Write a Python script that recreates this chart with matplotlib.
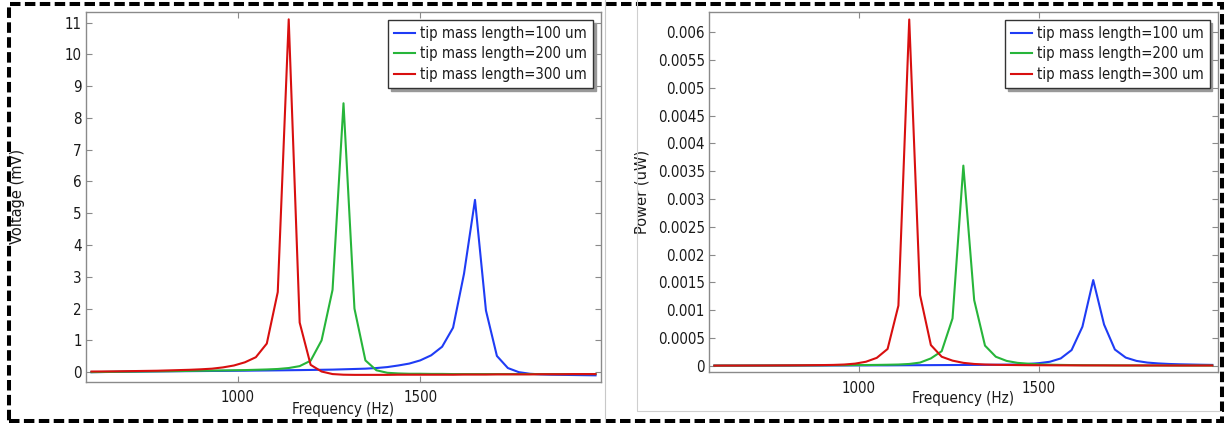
#Frequency response plots: voltage and power vs frequency for three tip mass lengths
import numpy as np
import matplotlib
matplotlib.use("Agg")
import matplotlib.pyplot as plt
from matplotlib.ticker import FuncFormatter
from matplotlib.lines import Line2D
from matplotlib.patches import Rectangle

plt.rcParams['font.family'] = ['DejaVu Sans']

#sweep frequencies (Hz), 600..1980 in 30 Hz steps
freq = np.arange(600, 1981, 30)

series_labels = ["tip mass length=100 um", "tip mass length=200 um", "tip mass length=300 um"]
series_colors = ["#1f3cf5", "#27b53a", "#d80f0f"]

#voltage (mV), ten values per row
voltage_100 = [0.0, 0.004, 0.008, 0.012, 0.016, 0.02, 0.023, 0.026, 0.029, 0.032,
               0.035, 0.038, 0.04, 0.043, 0.046, 0.05, 0.053, 0.057, 0.061, 0.065,
               0.07, 0.075, 0.08, 0.09, 0.1, 0.11, 0.13, 0.16, 0.21, 0.27,
               0.37, 0.53, 0.8, 1.4, 3.1, 5.42, 1.94, 0.51, 0.13, 0.0,
               -0.05, -0.07, -0.08, -0.085, -0.09, -0.095, -0.1]
voltage_200 = [0.0, 0.005, 0.01, 0.014, 0.018, 0.022, 0.026, 0.03, 0.035, 0.04,
               0.045, 0.05, 0.055, 0.06, 0.065, 0.075, 0.085, 0.1, 0.13, 0.19,
               0.36, 1.0, 2.59, 8.46, 2.0, 0.37, 0.06, -0.02, -0.04, -0.05,
               -0.05, -0.055, -0.055, -0.06, -0.06, -0.06, -0.06, -0.06, -0.06, -0.06,
               -0.06, -0.06, -0.06, -0.06, -0.06, -0.06, -0.06]
voltage_300 = [0.02, 0.022, 0.025, 0.03, 0.035, 0.04, 0.045, 0.055, 0.065, 0.075,
               0.09, 0.11, 0.15, 0.21, 0.31, 0.47, 0.9, 2.52, 11.1, 1.56,
               0.23, 0.02, -0.06, -0.08, -0.085, -0.085, -0.085, -0.085, -0.08, -0.08,
               -0.08, -0.08, -0.08, -0.08, -0.075, -0.075, -0.075, -0.07, -0.07, -0.07,
               -0.07, -0.065, -0.065, -0.065, -0.06, -0.06, -0.06]

#power (uW), ten values per row
power_100 = [0.0, 0.0, 0.0, 0.0, 0.000001, 0.000001, 0.000001, 0.000001, 0.000002, 0.000002,
             0.000002, 0.000003, 0.000003, 0.000004, 0.000004, 0.000005, 0.000005, 0.000006, 0.000007, 0.000008,
             0.000009, 0.00001, 0.000011, 0.000012, 0.000013, 0.000014, 0.000016, 0.000018, 0.00002, 0.00003,
             0.000045, 0.00007, 0.00013, 0.00028, 0.0007, 0.00154, 0.00074, 0.00029, 0.000145, 0.000085,
             0.000055, 0.00004, 0.00003, 0.000024, 0.00002, 0.000016, 0.000013]
power_200 = [0.0, 0.000001, 0.000001, 0.000001, 0.000002, 0.000002, 0.000003, 0.000003, 0.000004, 0.000005,
             0.000006, 0.000007, 0.000008, 0.00001, 0.000011, 0.000013, 0.000016, 0.00002, 0.00003, 0.000055,
             0.00013, 0.00026, 0.00085, 0.0036, 0.00118, 0.00036, 0.00016, 0.000085, 0.00005, 0.000035,
             0.000024, 0.000017, 0.000013, 0.00001, 0.000008, 0.000007, 0.000006, 0.000005, 0.000004, 0.000004,
             0.000003, 0.000003, 0.000003, 0.000002, 0.000002, 0.000002, 0.000002]
power_300 = [0.0, 0.000001, 0.000001, 0.000002, 0.000002, 0.000003, 0.000004, 0.000005, 0.000006, 0.000008,
             0.00001, 0.000013, 0.00002, 0.000036, 0.00007, 0.00014, 0.0003, 0.00108, 0.00623, 0.00127,
             0.00037, 0.00016, 0.00009, 0.00005, 0.00003, 0.00002, 0.000015, 0.000012, 0.00001, 0.000008,
             0.000007, 0.000006, 0.000005, 0.000005, 0.000004, 0.000004, 0.000004, 0.000003, 0.000003, 0.000003,
             0.000003, 0.000003, 0.000002, 0.000002, 0.000002, 0.000002, 0.000002]

voltage_data = [voltage_100, voltage_200, voltage_300]
power_data = [power_100, power_200, power_300]

spine_gray = "#8a8a8a"
text_dark = "#1a1a1a"


def style_axes(ax):
    for side in ax.spines.values():
        side.set_color(spine_gray)
        side.set_linewidth(1.0)
    ax.tick_params(direction="in", length=4, width=0.8, color=spine_gray,
                   top=True, right=True, labelcolor=text_dark, labelsize=10.8)
    ax.tick_params(axis="x", pad=6)
    ax.tick_params(axis="y", pad=3)
    ax.set_xticks([1000, 1500])
    ax.set_xlim(585, 1995)


def draw_panel(ax, data, ylabel, ylim, yticks):
    for vals, lab, col in zip(data, series_labels, series_colors):
        ax.plot(freq, vals, color=col, lw=1.5, label=lab, solid_joinstyle="round")
    ax.set_ylim(*ylim)
    ax.set_yticks(yticks)
    style_axes(ax)
    ax.set_xlabel("Frequency (Hz)", fontsize=10.8, fontstretch="condensed", color=text_dark)
    ax.set_ylabel(ylabel, fontsize=10.5, color=text_dark)
    leg = ax.legend(loc="upper right", fancybox=False, shadow={"ox": 2, "oy": -2, "color": "#999999", "alpha": 1},
                    prop=dict(size=10.7, stretch="condensed"),
                    borderaxespad=0.55, handlelength=1.4, handletextpad=0.35, labelspacing=0.38,
                    borderpad=0.4, framealpha=1)
    leg.get_frame().set_edgecolor("#333333")
    leg.get_frame().set_linewidth(1.0)
    for t in leg.get_texts():
        t.set_color(text_dark)
    return ax


fig = plt.figure(figsize=(12.27, 4.23), dpi=100)

ax1 = fig.add_axes([86 / 1227, 1 - 381.7 / 423, 515 / 1227, 370 / 423])
draw_panel(ax1, voltage_data, "Voltage (mV)", (-0.3, 11.34), np.arange(0, 12, 1))
ax1.xaxis.set_label_coords(0.5, -0.055)
ax1.yaxis.set_label_coords(-0.119, 0.5)

ax2 = fig.add_axes([709 / 1227, 1 - 372.3 / 423, 508.7 / 1227, 360.6 / 423])
draw_panel(ax2, power_data, "Power (uW)", (-0.00012, 0.00637), np.linspace(0, 0.006, 13))
ax2.yaxis.set_major_formatter(FuncFormatter(lambda v, pos: "0" if abs(v) < 1e-12 else f"{v:.4f}".rstrip("0")))
ax2.xaxis.set_label_coords(0.5, -0.053)
ax2.yaxis.set_label_coords(-0.116, 0.5)

for ax in (ax1, ax2):
    for lbl in ax.get_xticklabels() + ax.get_yticklabels():
        lbl.set_fontstretch("condensed")

#panel separators
fig.add_artist(Line2D([605 / 1227, 605 / 1227], [0, 1], color="#c8c8c8", lw=0.8))
fig.add_artist(Line2D([637 / 1227, 637 / 1227, 1221 / 1227], [1, 1 - 411 / 423, 1 - 411 / 423],
                      color="#cfcfcf", lw=0.8))

#dashed outer border
fig.add_artist(Rectangle((9 / 1227, 1 - 421 / 423), 1213 / 1227, 417 / 423, fill=False,
                         edgecolor="black", lw=2.9, linestyle=(0, (2.6, 1.1)), transform=fig.transFigure))

fig.savefig("out.png", dpi=100)
